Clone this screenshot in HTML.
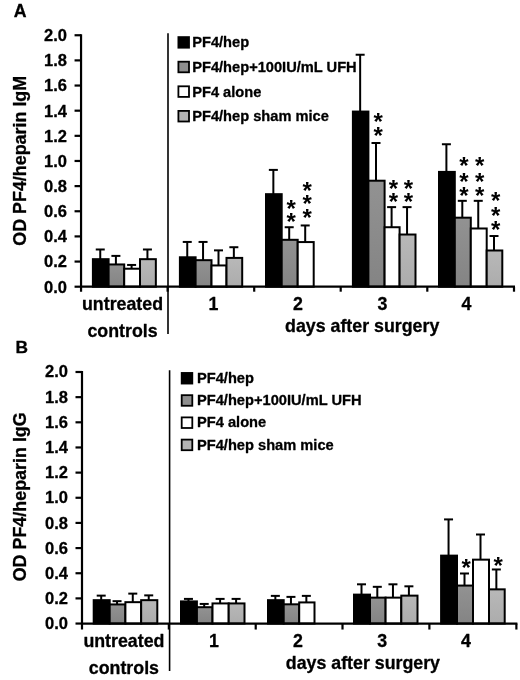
<!DOCTYPE html>
<html><head><meta charset="utf-8"><title>Figure</title>
<style>
html,body{margin:0;padding:0;background:#fff;}
body{width:520px;height:680px;overflow:hidden;}
svg{display:block;}
text{font-family:"Liberation Sans", Arial, Helvetica, sans-serif;fill:#000;}
.b{font-weight:bold;stroke:#000;stroke-width:0.3px;stroke-linejoin:round;}
.st{font-weight:bold;}
.ln{stroke:#000;stroke-width:2.2;fill:none;}
.eb{stroke:#000;stroke-width:2;fill:none;}
</style></head><body>
<svg width="520" height="680" viewBox="0 0 520 680">
<defs>
<linearGradient id="gd" x1="0" y1="0" x2="0" y2="1"><stop offset="0" stop-color="#929292"/><stop offset="1" stop-color="#848484"/></linearGradient>
<linearGradient id="gl" x1="0" y1="0" x2="0" y2="1"><stop offset="0" stop-color="#b8b8b8"/><stop offset="1" stop-color="#acacac"/></linearGradient>
</defs>
<rect width="520" height="680" fill="#fff"/>
<g>
<text x="13.8" y="16.5" font-size="17.7" class="b">A</text>
<line x1="74.55" y1="286.70" x2="81.05" y2="286.70" class="ln"/>
<text x="66.9" y="292.60" font-size="16.5" text-anchor="end" class="b">0.0</text>
<line x1="74.55" y1="261.56" x2="81.05" y2="261.56" class="ln"/>
<text x="66.9" y="267.45" font-size="16.5" text-anchor="end" class="b">0.2</text>
<line x1="74.55" y1="236.41" x2="81.05" y2="236.41" class="ln"/>
<text x="66.9" y="242.31" font-size="16.5" text-anchor="end" class="b">0.4</text>
<line x1="74.55" y1="211.26" x2="81.05" y2="211.26" class="ln"/>
<text x="66.9" y="217.16" font-size="16.5" text-anchor="end" class="b">0.6</text>
<line x1="74.55" y1="186.12" x2="81.05" y2="186.12" class="ln"/>
<text x="66.9" y="192.02" font-size="16.5" text-anchor="end" class="b">0.8</text>
<line x1="74.55" y1="160.97" x2="81.05" y2="160.97" class="ln"/>
<text x="66.9" y="166.88" font-size="16.5" text-anchor="end" class="b">1.0</text>
<line x1="74.55" y1="135.83" x2="81.05" y2="135.83" class="ln"/>
<text x="66.9" y="141.73" font-size="16.5" text-anchor="end" class="b">1.2</text>
<line x1="74.55" y1="110.68" x2="81.05" y2="110.68" class="ln"/>
<text x="66.9" y="116.58" font-size="16.5" text-anchor="end" class="b">1.4</text>
<line x1="74.55" y1="85.54" x2="81.05" y2="85.54" class="ln"/>
<text x="66.9" y="91.44" font-size="16.5" text-anchor="end" class="b">1.6</text>
<line x1="74.55" y1="60.39" x2="81.05" y2="60.39" class="ln"/>
<text x="66.9" y="66.29" font-size="16.5" text-anchor="end" class="b">1.8</text>
<line x1="74.55" y1="35.25" x2="81.05" y2="35.25" class="ln"/>
<text x="66.9" y="41.15" font-size="16.5" text-anchor="end" class="b">2.0</text>
<line x1="100.25" y1="249.49" x2="100.25" y2="259.17" class="eb"/>
<line x1="95.75" y1="249.49" x2="104.75" y2="249.49" class="eb"/>
<rect x="92.90" y="259.17" width="15.70" height="27.53" fill="#000000" stroke="#000" stroke-width="2"/>
<line x1="115.90" y1="255.90" x2="115.90" y2="264.45" class="eb"/>
<line x1="111.40" y1="255.90" x2="120.40" y2="255.90" class="eb"/>
<rect x="108.60" y="264.45" width="15.60" height="22.25" fill="url(#gd)" stroke="#000" stroke-width="2"/>
<line x1="131.60" y1="264.95" x2="131.60" y2="268.72" class="eb"/>
<line x1="127.10" y1="264.95" x2="136.10" y2="264.95" class="eb"/>
<rect x="124.20" y="268.72" width="15.80" height="17.98" fill="#ffffff" stroke="#000" stroke-width="2"/>
<line x1="147.43" y1="249.49" x2="147.43" y2="259.17" class="eb"/>
<line x1="142.93" y1="249.49" x2="151.93" y2="249.49" class="eb"/>
<rect x="140.00" y="259.17" width="15.85" height="27.53" fill="url(#gl)" stroke="#000" stroke-width="2"/>
<line x1="187.25" y1="241.94" x2="187.25" y2="257.28" class="eb"/>
<line x1="182.75" y1="241.94" x2="191.75" y2="241.94" class="eb"/>
<rect x="179.90" y="257.28" width="15.70" height="29.42" fill="#000000" stroke="#000" stroke-width="2"/>
<line x1="203.05" y1="241.94" x2="203.05" y2="260.17" class="eb"/>
<line x1="198.55" y1="241.94" x2="207.55" y2="241.94" class="eb"/>
<rect x="195.60" y="260.17" width="15.90" height="26.53" fill="url(#gd)" stroke="#000" stroke-width="2"/>
<line x1="218.50" y1="250.37" x2="218.50" y2="265.45" class="eb"/>
<line x1="214.00" y1="250.37" x2="223.00" y2="250.37" class="eb"/>
<rect x="211.50" y="265.45" width="15.00" height="21.25" fill="#ffffff" stroke="#000" stroke-width="2"/>
<line x1="233.85" y1="247.22" x2="233.85" y2="257.91" class="eb"/>
<line x1="229.35" y1="247.22" x2="238.35" y2="247.22" class="eb"/>
<rect x="226.50" y="257.91" width="15.70" height="28.79" fill="url(#gl)" stroke="#000" stroke-width="2"/>
<line x1="273.35" y1="169.90" x2="273.35" y2="194.17" class="eb"/>
<line x1="268.85" y1="169.90" x2="277.85" y2="169.90" class="eb"/>
<rect x="266.00" y="194.17" width="15.70" height="92.53" fill="#000000" stroke="#000" stroke-width="2"/>
<line x1="289.20" y1="227.23" x2="289.20" y2="239.80" class="eb"/>
<line x1="284.70" y1="227.23" x2="293.70" y2="227.23" class="eb"/>
<rect x="281.70" y="239.80" width="16.00" height="46.90" fill="url(#gd)" stroke="#000" stroke-width="2"/>
<line x1="305.20" y1="225.47" x2="305.20" y2="242.07" class="eb"/>
<line x1="300.70" y1="225.47" x2="309.70" y2="225.47" class="eb"/>
<rect x="297.70" y="242.07" width="16.00" height="44.63" fill="#ffffff" stroke="#000" stroke-width="2"/>
<line x1="360.15" y1="54.74" x2="360.15" y2="111.57" class="eb"/>
<line x1="355.65" y1="54.74" x2="364.65" y2="54.74" class="eb"/>
<rect x="352.90" y="111.57" width="15.50" height="175.13" fill="#000000" stroke="#000" stroke-width="2"/>
<line x1="376.00" y1="143.00" x2="376.00" y2="180.71" class="eb"/>
<line x1="371.50" y1="143.00" x2="380.50" y2="143.00" class="eb"/>
<rect x="368.40" y="180.71" width="16.20" height="105.99" fill="url(#gd)" stroke="#000" stroke-width="2"/>
<line x1="391.60" y1="207.12" x2="391.60" y2="227.23" class="eb"/>
<line x1="387.10" y1="207.12" x2="396.10" y2="207.12" class="eb"/>
<rect x="384.60" y="227.23" width="15.00" height="59.47" fill="#ffffff" stroke="#000" stroke-width="2"/>
<line x1="407.05" y1="207.12" x2="407.05" y2="234.52" class="eb"/>
<line x1="402.55" y1="207.12" x2="411.55" y2="207.12" class="eb"/>
<rect x="399.60" y="234.52" width="15.90" height="52.18" fill="url(#gl)" stroke="#000" stroke-width="2"/>
<line x1="446.40" y1="144.25" x2="446.40" y2="171.91" class="eb"/>
<line x1="441.90" y1="144.25" x2="450.90" y2="144.25" class="eb"/>
<rect x="439.00" y="171.91" width="15.80" height="114.79" fill="#000000" stroke="#000" stroke-width="2"/>
<line x1="462.30" y1="200.83" x2="462.30" y2="217.68" class="eb"/>
<line x1="457.80" y1="200.83" x2="466.80" y2="200.83" class="eb"/>
<rect x="454.80" y="217.68" width="16.00" height="69.02" fill="url(#gd)" stroke="#000" stroke-width="2"/>
<line x1="478.25" y1="200.83" x2="478.25" y2="228.49" class="eb"/>
<line x1="473.75" y1="200.83" x2="482.75" y2="200.83" class="eb"/>
<rect x="470.80" y="228.49" width="15.90" height="58.21" fill="#ffffff" stroke="#000" stroke-width="2"/>
<line x1="494.00" y1="236.03" x2="494.00" y2="250.49" class="eb"/>
<line x1="489.50" y1="236.03" x2="498.50" y2="236.03" class="eb"/>
<rect x="486.70" y="250.49" width="15.60" height="36.21" fill="url(#gl)" stroke="#000" stroke-width="2"/>
<text x="291.1" y="216.62" font-size="24" text-anchor="middle" class="st">*</text>
<text x="291.1" y="230.32" font-size="24" text-anchor="middle" class="st">*</text>
<text x="307.2" y="198.72" font-size="24" text-anchor="middle" class="st">*</text>
<text x="307.2" y="212.32" font-size="24" text-anchor="middle" class="st">*</text>
<text x="307.2" y="226.02" font-size="24" text-anchor="middle" class="st">*</text>
<text x="378.1" y="130.22" font-size="24" text-anchor="middle" class="st">*</text>
<text x="378.1" y="143.82" font-size="24" text-anchor="middle" class="st">*</text>
<text x="393.4" y="196.52" font-size="24" text-anchor="middle" class="st">*</text>
<text x="393.4" y="210.32" font-size="24" text-anchor="middle" class="st">*</text>
<text x="408.4" y="196.52" font-size="24" text-anchor="middle" class="st">*</text>
<text x="408.4" y="210.32" font-size="24" text-anchor="middle" class="st">*</text>
<text x="464" y="174.02" font-size="24" text-anchor="middle" class="st">*</text>
<text x="464" y="190.02" font-size="24" text-anchor="middle" class="st">*</text>
<text x="464" y="203.52" font-size="24" text-anchor="middle" class="st">*</text>
<text x="479.6" y="174.02" font-size="24" text-anchor="middle" class="st">*</text>
<text x="479.6" y="190.02" font-size="24" text-anchor="middle" class="st">*</text>
<text x="479.6" y="203.52" font-size="24" text-anchor="middle" class="st">*</text>
<text x="495.6" y="208.62" font-size="24" text-anchor="middle" class="st">*</text>
<text x="495.6" y="224.02" font-size="24" text-anchor="middle" class="st">*</text>
<text x="495.6" y="237.72" font-size="24" text-anchor="middle" class="st">*</text>
<line x1="81.05" y1="34.25" x2="81.05" y2="291.70" class="ln"/>
<line x1="80.05" y1="286.70" x2="515.00" y2="286.70" class="ln"/>
<line x1="167.60" y1="286.70" x2="167.60" y2="291.70" class="ln"/>
<line x1="254.20" y1="286.70" x2="254.20" y2="291.70" class="ln"/>
<line x1="340.70" y1="286.70" x2="340.70" y2="291.70" class="ln"/>
<line x1="427.30" y1="286.70" x2="427.30" y2="291.70" class="ln"/>
<line x1="514.00" y1="286.70" x2="514.00" y2="291.70" class="ln"/>
<line x1="168.00" y1="33.20" x2="168.00" y2="334.00" stroke="#000" stroke-width="1.6"/>
<text transform="translate(26.2,160.8) rotate(-90)" font-size="17.9" text-anchor="middle" class="b">OD PF4/heparin IgM</text>
<text x="122.50" y="310.10" font-size="17.8" text-anchor="middle" class="b">untreated</text>
<text x="122.50" y="336.90" font-size="17.8" text-anchor="middle" class="b">controls</text>
<text x="213.50" y="309.60" font-size="17.8" text-anchor="middle" class="b">1</text>
<text x="298.00" y="309.60" font-size="17.8" text-anchor="middle" class="b">2</text>
<text x="382.40" y="309.60" font-size="17.8" text-anchor="middle" class="b">3</text>
<text x="466.50" y="309.60" font-size="17.8" text-anchor="middle" class="b">4</text>
<text x="362.20" y="332.00" font-size="17.8" text-anchor="middle" class="b">days after surgery</text>
<rect x="178.4" y="37.10" width="10.6" height="10.6" fill="#000000" stroke="#000" stroke-width="1.8"/>
<text x="192.2" y="47.30" font-size="14.65" class="b">PF4/hep</text>
<rect x="178.4" y="61.70" width="10.6" height="10.6" fill="#8e8e8e" stroke="#000" stroke-width="1.8"/>
<text x="192.2" y="71.90" font-size="14.65" class="b">PF4/hep+100IU/mL UFH</text>
<rect x="178.4" y="86.30" width="10.6" height="10.6" fill="#ffffff" stroke="#000" stroke-width="1.8"/>
<text x="192.2" y="96.50" font-size="14.65" class="b">PF4 alone</text>
<rect x="178.4" y="110.90" width="10.6" height="10.6" fill="#b4b4b4" stroke="#000" stroke-width="1.8"/>
<text x="192.2" y="121.10" font-size="14.65" class="b">PF4/hep sham mice</text>
</g>
<g>
<text x="15.6" y="352.9" font-size="17.3" class="b">B</text>
<line x1="75.50" y1="623.55" x2="82.00" y2="623.55" class="ln"/>
<text x="67.9" y="629.45" font-size="16.5" text-anchor="end" class="b">0.0</text>
<line x1="75.50" y1="598.39" x2="82.00" y2="598.39" class="ln"/>
<text x="67.9" y="604.25" font-size="16.5" text-anchor="end" class="b">0.2</text>
<line x1="75.50" y1="573.24" x2="82.00" y2="573.24" class="ln"/>
<text x="67.9" y="579.04" font-size="16.5" text-anchor="end" class="b">0.4</text>
<line x1="75.50" y1="548.08" x2="82.00" y2="548.08" class="ln"/>
<text x="67.9" y="553.83" font-size="16.5" text-anchor="end" class="b">0.6</text>
<line x1="75.50" y1="522.93" x2="82.00" y2="522.93" class="ln"/>
<text x="67.9" y="528.63" font-size="16.5" text-anchor="end" class="b">0.8</text>
<line x1="75.50" y1="497.77" x2="82.00" y2="497.77" class="ln"/>
<text x="67.9" y="503.42" font-size="16.5" text-anchor="end" class="b">1.0</text>
<line x1="75.50" y1="472.62" x2="82.00" y2="472.62" class="ln"/>
<text x="67.9" y="478.22" font-size="16.5" text-anchor="end" class="b">1.2</text>
<line x1="75.50" y1="447.46" x2="82.00" y2="447.46" class="ln"/>
<text x="67.9" y="453.01" font-size="16.5" text-anchor="end" class="b">1.4</text>
<line x1="75.50" y1="422.31" x2="82.00" y2="422.31" class="ln"/>
<text x="67.9" y="427.81" font-size="16.5" text-anchor="end" class="b">1.6</text>
<line x1="75.50" y1="397.15" x2="82.00" y2="397.15" class="ln"/>
<text x="67.9" y="402.60" font-size="16.5" text-anchor="end" class="b">1.8</text>
<line x1="75.50" y1="372.00" x2="82.00" y2="372.00" class="ln"/>
<text x="67.9" y="377.40" font-size="16.5" text-anchor="end" class="b">2.0</text>
<line x1="101.20" y1="595.63" x2="101.20" y2="600.16" class="eb"/>
<line x1="96.70" y1="595.63" x2="105.70" y2="595.63" class="eb"/>
<rect x="93.70" y="600.16" width="16.00" height="23.39" fill="#000000" stroke="#000" stroke-width="2"/>
<line x1="117.05" y1="601.16" x2="117.05" y2="604.43" class="eb"/>
<line x1="112.55" y1="601.16" x2="121.55" y2="601.16" class="eb"/>
<rect x="109.70" y="604.43" width="15.70" height="19.12" fill="url(#gd)" stroke="#000" stroke-width="2"/>
<line x1="132.78" y1="593.62" x2="132.78" y2="602.17" class="eb"/>
<line x1="128.28" y1="593.62" x2="137.28" y2="593.62" class="eb"/>
<rect x="125.40" y="602.17" width="15.75" height="21.38" fill="#ffffff" stroke="#000" stroke-width="2"/>
<line x1="148.73" y1="595.38" x2="148.73" y2="600.16" class="eb"/>
<line x1="144.23" y1="595.38" x2="153.23" y2="595.38" class="eb"/>
<rect x="141.15" y="600.16" width="16.15" height="23.39" fill="url(#gl)" stroke="#000" stroke-width="2"/>
<line x1="188.45" y1="598.90" x2="188.45" y2="601.41" class="eb"/>
<line x1="183.95" y1="598.90" x2="192.95" y2="598.90" class="eb"/>
<rect x="181.00" y="601.41" width="15.90" height="22.14" fill="#000000" stroke="#000" stroke-width="2"/>
<line x1="204.20" y1="603.93" x2="204.20" y2="607.20" class="eb"/>
<line x1="199.70" y1="603.93" x2="208.70" y2="603.93" class="eb"/>
<rect x="196.90" y="607.20" width="15.60" height="16.35" fill="url(#gd)" stroke="#000" stroke-width="2"/>
<line x1="220.10" y1="598.90" x2="220.10" y2="603.43" class="eb"/>
<line x1="215.60" y1="598.90" x2="224.60" y2="598.90" class="eb"/>
<rect x="212.50" y="603.43" width="16.20" height="20.12" fill="#ffffff" stroke="#000" stroke-width="2"/>
<line x1="236.10" y1="598.90" x2="236.10" y2="603.43" class="eb"/>
<line x1="231.60" y1="598.90" x2="240.60" y2="598.90" class="eb"/>
<rect x="228.70" y="603.43" width="15.80" height="20.12" fill="url(#gl)" stroke="#000" stroke-width="2"/>
<line x1="275.35" y1="595.88" x2="275.35" y2="600.16" class="eb"/>
<line x1="270.85" y1="595.88" x2="279.85" y2="595.88" class="eb"/>
<rect x="268.00" y="600.16" width="15.70" height="23.39" fill="#000000" stroke="#000" stroke-width="2"/>
<line x1="290.95" y1="596.89" x2="290.95" y2="604.31" class="eb"/>
<line x1="286.45" y1="596.89" x2="295.45" y2="596.89" class="eb"/>
<rect x="283.70" y="604.31" width="15.50" height="19.24" fill="url(#gd)" stroke="#000" stroke-width="2"/>
<line x1="306.35" y1="595.88" x2="306.35" y2="602.42" class="eb"/>
<line x1="301.85" y1="595.88" x2="310.85" y2="595.88" class="eb"/>
<rect x="299.20" y="602.42" width="15.30" height="21.13" fill="#ffffff" stroke="#000" stroke-width="2"/>
<line x1="361.50" y1="584.31" x2="361.50" y2="594.62" class="eb"/>
<line x1="357.00" y1="584.31" x2="366.00" y2="584.31" class="eb"/>
<rect x="354.00" y="594.62" width="16.00" height="28.93" fill="#000000" stroke="#000" stroke-width="2"/>
<line x1="377.30" y1="586.82" x2="377.30" y2="597.64" class="eb"/>
<line x1="372.80" y1="586.82" x2="381.80" y2="586.82" class="eb"/>
<rect x="370.00" y="597.64" width="15.60" height="25.91" fill="url(#gd)" stroke="#000" stroke-width="2"/>
<line x1="392.95" y1="584.31" x2="392.95" y2="597.64" class="eb"/>
<line x1="388.45" y1="584.31" x2="397.45" y2="584.31" class="eb"/>
<rect x="385.60" y="597.64" width="15.70" height="25.91" fill="#ffffff" stroke="#000" stroke-width="2"/>
<line x1="408.90" y1="586.32" x2="408.90" y2="595.63" class="eb"/>
<line x1="404.40" y1="586.32" x2="413.40" y2="586.32" class="eb"/>
<rect x="401.30" y="595.63" width="16.20" height="27.92" fill="url(#gl)" stroke="#000" stroke-width="2"/>
<line x1="448.55" y1="519.41" x2="448.55" y2="555.63" class="eb"/>
<line x1="444.05" y1="519.41" x2="453.05" y2="519.41" class="eb"/>
<rect x="441.10" y="555.63" width="15.90" height="67.92" fill="#000000" stroke="#000" stroke-width="2"/>
<line x1="464.50" y1="573.49" x2="464.50" y2="585.57" class="eb"/>
<line x1="460.00" y1="573.49" x2="469.00" y2="573.49" class="eb"/>
<rect x="457.00" y="585.57" width="16.00" height="37.98" fill="url(#gd)" stroke="#000" stroke-width="2"/>
<line x1="480.50" y1="534.50" x2="480.50" y2="559.66" class="eb"/>
<line x1="476.00" y1="534.50" x2="485.00" y2="534.50" class="eb"/>
<rect x="473.00" y="559.66" width="16.00" height="63.89" fill="#ffffff" stroke="#000" stroke-width="2"/>
<line x1="496.35" y1="569.47" x2="496.35" y2="589.34" class="eb"/>
<line x1="491.85" y1="569.47" x2="500.85" y2="569.47" class="eb"/>
<rect x="489.00" y="589.34" width="15.70" height="34.21" fill="url(#gl)" stroke="#000" stroke-width="2"/>
<text x="466.2" y="576.32" font-size="24" text-anchor="middle" class="st">*</text>
<text x="498.2" y="573.62" font-size="24" text-anchor="middle" class="st">*</text>
<line x1="82.00" y1="371.00" x2="82.00" y2="629.55" class="ln"/>
<line x1="81.00" y1="623.55" x2="517.38" y2="623.55" class="ln"/>
<line x1="168.84" y1="623.55" x2="168.84" y2="629.55" class="ln"/>
<line x1="255.72" y1="623.55" x2="255.72" y2="629.55" class="ln"/>
<line x1="342.51" y1="623.55" x2="342.51" y2="629.55" class="ln"/>
<line x1="429.39" y1="623.55" x2="429.39" y2="629.55" class="ln"/>
<line x1="516.38" y1="623.55" x2="516.38" y2="629.55" class="ln"/>
<line x1="169.59" y1="370.20" x2="169.59" y2="671.10" stroke="#000" stroke-width="1.6"/>
<text transform="translate(26.2,496.8) rotate(-90)" font-size="17.9" text-anchor="middle" class="b">OD PF4/heparin IgG</text>
<text x="123.90" y="647.10" font-size="17.8" text-anchor="middle" class="b">untreated</text>
<text x="123.90" y="673.90" font-size="17.8" text-anchor="middle" class="b">controls</text>
<text x="214.00" y="647.10" font-size="17.8" text-anchor="middle" class="b">1</text>
<text x="297.90" y="647.10" font-size="17.8" text-anchor="middle" class="b">2</text>
<text x="382.10" y="647.10" font-size="17.8" text-anchor="middle" class="b">3</text>
<text x="466.00" y="647.10" font-size="17.8" text-anchor="middle" class="b">4</text>
<text x="362.90" y="669.00" font-size="17.8" text-anchor="middle" class="b">days after surgery</text>
<rect x="181.7" y="372.95" width="10.6" height="10.6" fill="#000000" stroke="#000" stroke-width="1.8"/>
<text x="197.0" y="382.85" font-size="14.65" class="b">PF4/hep</text>
<rect x="181.7" y="395.17" width="10.6" height="10.6" fill="#8e8e8e" stroke="#000" stroke-width="1.8"/>
<text x="197.0" y="405.07" font-size="14.65" class="b">PF4/hep+100IU/mL UFH</text>
<rect x="181.7" y="417.39" width="10.6" height="10.6" fill="#ffffff" stroke="#000" stroke-width="1.8"/>
<text x="197.0" y="427.29" font-size="14.65" class="b">PF4 alone</text>
<rect x="181.7" y="439.61" width="10.6" height="10.6" fill="#b4b4b4" stroke="#000" stroke-width="1.8"/>
<text x="197.0" y="449.51" font-size="14.65" class="b">PF4/hep sham mice</text>
</g>
</svg>
</body></html>
